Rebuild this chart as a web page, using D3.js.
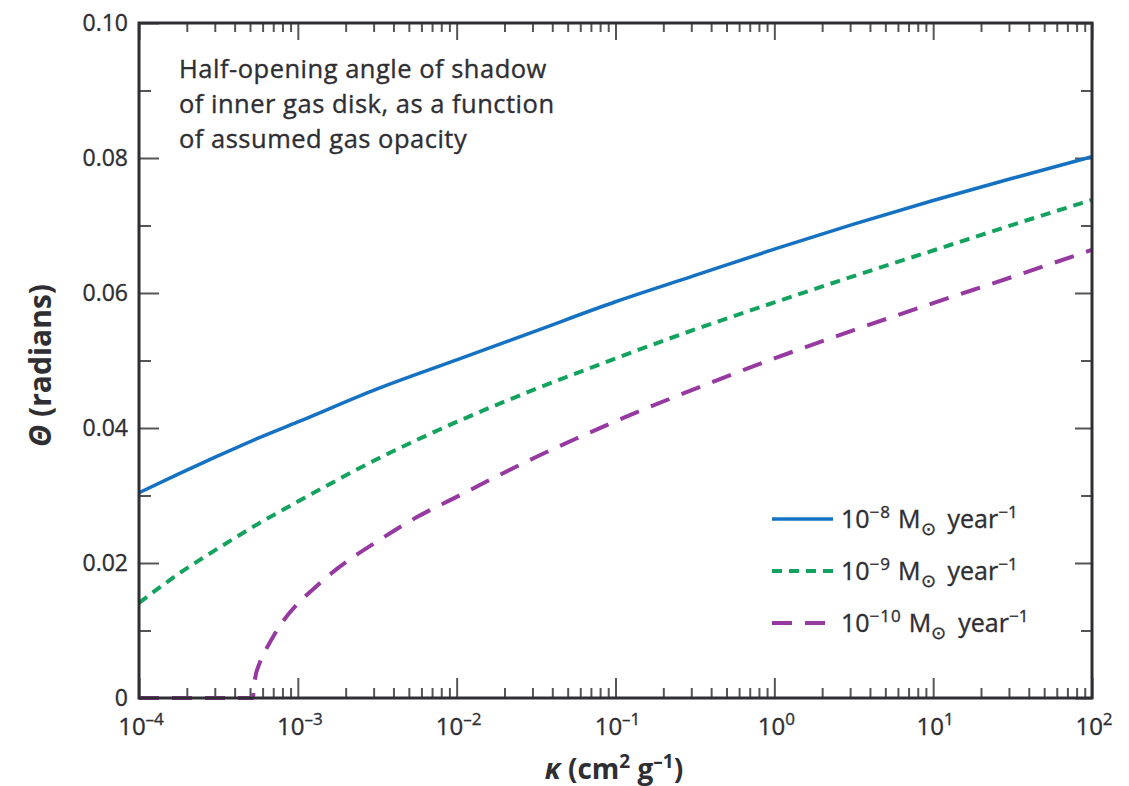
<!DOCTYPE html>
<html>
<head>
<meta charset="utf-8">
<script src="https://cdn.jsdelivr.net/npm/d3@7"></script>
<style>
  body { margin: 0; background: #fff; }
  svg { font-family: 'Open Sans', sans-serif; }
  .reg { stroke: #2e2e33; stroke-width: 0.35px; }
</style>
</head>
<body>
<div id="chart"></div>
<script>
// log10(kappa) sample points and theta (radians)
const logK_1e8 = [-4, -3.75, -3.5, -3.25, -3, -2.5, -2, -1.5, -1, -0.5, 0, 0.5, 1, 1.5, 2]
const theta_1e8 = [0.0304, 0.0332, 0.0359, 0.0385, 0.0409, 0.0458, 0.0501, 0.0544, 0.0587, 0.0626, 0.0665, 0.0702, 0.0737, 0.077, 0.0802]

const logK_1e9 = [-4, -3.75, -3.5, -3.25, -3, -2.5, -2, -1.5, -1, -0.5, 0, 0.5, 1, 1.5, 2]
const theta_1e9 = [0.0141, 0.0184, 0.0222, 0.0258, 0.0291, 0.0354, 0.0409, 0.0458, 0.0503, 0.0546, 0.0586, 0.0625, 0.0663, 0.0701, 0.0738]

const logK_1e10 = [-4, -3.5, -3.285, -3.27, -3.24, -3.2, -3.15, -3.08, -3, -2.9, -2.75, -2.5, -2.25, -2, -1.75, -1.5, -1.25, -1, -0.5, 0, 0.5, 1, 1.5, 2]
const theta_1e10 = [0, 0, 0, 0.0028, 0.0052, 0.0072, 0.0093, 0.0118, 0.014, 0.0162, 0.0192, 0.0232, 0.0268, 0.0298, 0.0328, 0.0357, 0.0384, 0.041, 0.0458, 0.0503, 0.0545, 0.0585, 0.0624, 0.0664]

const seriesExp = ['8', '9', '10']
const xTickExp = [-4, -3, -2, -1, 0, 1, 2]
const yTicks = [0, 0.02, 0.04, 0.06, 0.08, 0.1]
const yTickLabels = ['0', '0.02', '0.04', '0.06', '0.08', '0.10']
const noteLines = ['Half-opening angle of shadow', 'of inner gas disk, as a function', 'of assumed gas opacity']

const W = 1129, H = 786
const m = { top: 23, right: 37, bottom: 88, left: 139 }
const ink = '#2e2e33'

const svg = d3.select('#chart').append('svg').attr('width', W).attr('height', H)

const x = d3.scaleLog().domain([1e-4, 1e2]).range([m.left, W - m.right])
const y = d3.scaleLinear().domain([0, 0.1]).range([H - m.bottom, m.top])

const minorX = []
for (let e = -4; e < 2; e++) for (let k = 2; k <= 9; k++) minorX.push(k * Math.pow(10, e))
const majorX = xTickExp.map(e => Math.pow(10, e))
const minorY = d3.range(0.01, 0.1, 0.02)

function tickAxis(axisFn, scale, values, size, transform) {
  svg.append('g')
    .attr('transform', transform)
    .call(axisFn(scale).tickValues(values).tickSize(size).tickFormat(''))
    .call(g => g.select('.domain').remove())
    .call(g => g.selectAll('line').attr('stroke', '#555').attr('stroke-width', 2))
}
const pBottom = H - m.bottom, pTop = m.top, pLeft = m.left, pRight = W - m.right
tickAxis(d3.axisBottom, x, majorX, -20, `translate(0,${pBottom})`)
tickAxis(d3.axisBottom, x, minorX, -10, `translate(0,${pBottom})`)
tickAxis(d3.axisTop, x, majorX, -17, `translate(0,${pTop})`)
tickAxis(d3.axisTop, x, minorX, -9, `translate(0,${pTop})`)
tickAxis(d3.axisLeft, y, yTicks, -20, `translate(${pLeft},0)`)
tickAxis(d3.axisLeft, y, minorY, -12, `translate(${pLeft},0)`)
tickAxis(d3.axisRight, y, yTicks, -17, `translate(${pRight},0)`)
tickAxis(d3.axisRight, y, minorY, -11, `translate(${pRight},0)`)

// curves
const line = d3.line().x(d => x(Math.pow(10, d[0]))).y(d => y(d[1])).curve(d3.curveMonotoneX)
const series = [
  { k: logK_1e8, t: theta_1e8, color: '#1572c2', dash: null, w: 3.5 },
  { k: logK_1e9, t: theta_1e9, color: '#14a35f', dash: '10,7', w: 4 },
  { k: logK_1e10, t: theta_1e10, color: '#9639a0', dash: '20,13', w: 4 }
]
svg.append('g')
  .selectAll('path')
  .data(series)
  .join('path')
  .attr('d', s => line(d3.zip(s.k, s.t)))
  .attr('fill', 'none')
  .attr('stroke', s => s.color)
  .attr('stroke-width', s => s.w)
  .attr('stroke-dasharray', s => s.dash)

// frame
svg.append('rect')
  .attr('x', pLeft).attr('y', pTop)
  .attr('width', pRight - pLeft).attr('height', pBottom - pTop)
  .attr('fill', 'none').attr('stroke', ink).attr('stroke-width', 3)

// y tick labels
svg.append('g')
  .selectAll('text')
  .data(yTicks)
  .join('text')
  .attr('class', 'reg')
  .attr('x', pLeft - 11)
  .attr('y', d => y(d) + 8)
  .attr('text-anchor', 'end')
  .attr('font-size', 23)
  .attr('fill', ink)
  .text((d, i) => yTickLabels[i])

// x tick labels: 10^e
const xl = svg.append('g')
  .selectAll('text')
  .data(xTickExp)
  .join('text')
  .attr('class', 'reg')
  .attr('x', e => x(Math.pow(10, e)) + 2)
  .attr('y', pBottom + 37)
  .attr('text-anchor', 'middle')
  .attr('font-size', 24)
  .attr('fill', ink)
xl.append('tspan').text('10')
xl.append('tspan').attr('dy', -10).attr('font-size', 17).text(e => (e < 0 ? '–' : '') + Math.abs(e))

// axis titles
const yt = svg.append('text')
  .attr('transform', `translate(51,${(pTop + pBottom) / 2 + 5}) rotate(-90)`)
  .attr('text-anchor', 'middle')
  .attr('font-size', 30)
  .attr('font-weight', 'bold').attr('fill', ink)
yt.append('tspan').attr('font-style', 'italic').text('Θ')
yt.append('tspan').text(' (radians)')

const xt = svg.append('text')
  .attr('x', 614).attr('y', 779)
  .attr('text-anchor', 'middle')
  .attr('font-size', 28).attr('font-weight', 'bold').attr('fill', ink)
xt.append('tspan').attr('font-style', 'italic').text('κ')
xt.append('tspan').text(' (cm')
xt.append('tspan').attr('dy', -11).attr('font-size', 19).text('2')
xt.append('tspan').attr('dy', 11).text(' g')
xt.append('tspan').attr('dy', -11).attr('font-size', 19).text('–1')
xt.append('tspan').attr('dy', 11).text(')')

// note
svg.append('g')
  .selectAll('text')
  .data(noteLines)
  .join('text')
  .attr('class', 'reg')
  .attr('x', 179)
  .attr('y', (d, i) => 78 + i * 35)
  .attr('font-size', 25.5)
  .attr('letter-spacing', 0.5)
  .attr('fill', ink)
  .text(d => d)

// legend
const leg = svg.append('g')
  .selectAll('g')
  .data(series)
  .join('g')
  .attr('transform', (d, i) => `translate(772,${519 + i * 52})`)
leg.append('line')
  .attr('x1', 0).attr('x2', 61)
  .attr('stroke', s => s.color)
  .attr('stroke-width', s => s.w)
  .attr('stroke-dasharray', s => s.dash)
const lt = leg.append('text')
  .attr('class', 'reg')
  .attr('x', 69).attr('y', 9)
  .attr('font-size', 25).attr('fill', ink)
lt.append('tspan').text('10')
lt.append('tspan').attr('dy', -10).attr('font-size', 17).attr('letter-spacing', 1).text((d, i) => '−' + seriesExp[i])
lt.append('tspan').attr('dy', 10).attr('dx', 7).text('M')
lt.append('tspan').attr('dy', 7).attr('font-size', 18).text('⊙')
lt.append('tspan').attr('dy', -7).attr('dx', 12).text('year')
lt.append('tspan').attr('dy', -10).attr('font-size', 17).text('−1')
</script>
</body>
</html>
